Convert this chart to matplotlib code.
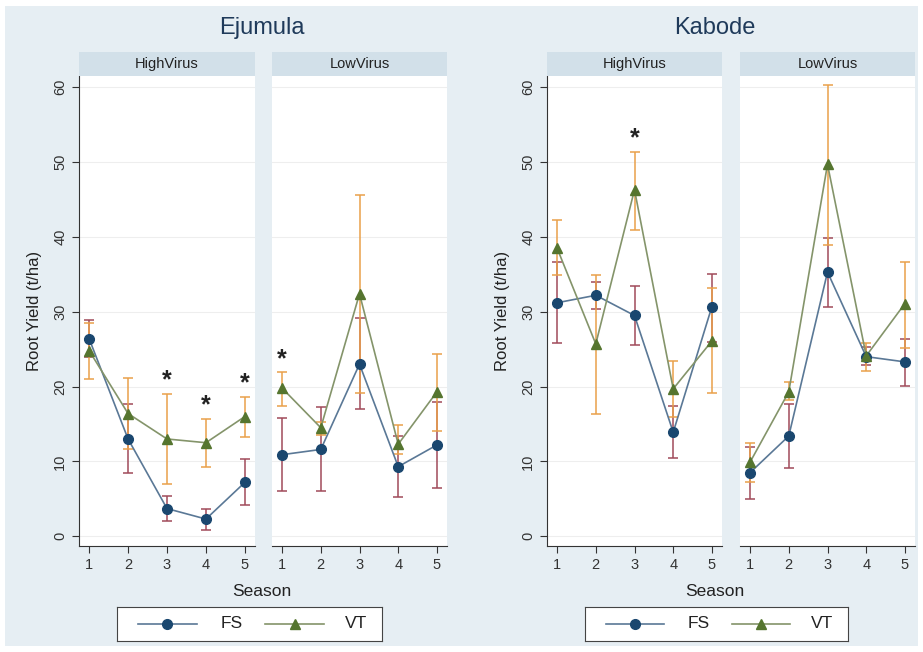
import matplotlib.pyplot as plt
from matplotlib.patches import Rectangle

plt.rcParams['font.family'] = ['Liberation Sans', 'DejaVu Sans']

# data
seasons = [1, 2, 3, 4, 5]

ej_high_fs = [26.4, 13.0, 3.7, 2.3, 7.2]
ej_high_fs_lo = [24.0, 8.4, 2.0, 0.9, 4.2]
ej_high_fs_hi = [28.9, 17.7, 5.4, 3.7, 10.3]
ej_high_vt = [24.8, 16.4, 13.0, 12.5, 16.0]
ej_high_vt_lo = [21.0, 11.7, 7.0, 9.2, 13.2]
ej_high_vt_hi = [28.5, 21.1, 19.0, 15.7, 18.6]
ej_high_star = [3, 4, 5]

ej_low_fs = [10.9, 11.6, 23.0, 9.3, 12.2]
ej_low_fs_lo = [6.1, 6.0, 17.0, 5.2, 6.4]
ej_low_fs_hi = [15.8, 17.3, 29.1, 13.4, 18.0]
ej_low_vt = [19.8, 14.5, 32.4, 12.3, 19.3]
ej_low_vt_lo = [17.4, 13.5, 19.2, 11.0, 14.1]
ej_low_vt_hi = [21.9, 15.3, 45.6, 14.9, 24.4]
ej_low_star = [1]

ka_high_fs = [31.2, 32.2, 29.5, 13.9, 30.7]
ka_high_fs_lo = [25.8, 30.4, 25.6, 10.5, 26.0]
ka_high_fs_hi = [36.7, 34.0, 33.4, 17.4, 35.0]
ka_high_vt = [38.5, 25.7, 46.3, 19.7, 26.1]
ka_high_vt_lo = [34.9, 16.3, 40.9, 15.9, 19.1]
ka_high_vt_hi = [42.2, 34.9, 51.4, 23.4, 33.2]
ka_high_star = [3]

ka_low_fs = [8.5, 13.4, 35.3, 24.0, 23.3]
ka_low_fs_lo = [5.0, 9.1, 30.7, 22.9, 20.1]
ka_low_fs_hi = [11.9, 17.7, 39.8, 25.3, 26.4]
ka_low_vt = [9.9, 19.3, 49.7, 24.1, 31.1]
ka_low_vt_lo = [7.3, 18.2, 38.9, 22.1, 25.2]
ka_low_vt_hi = [12.4, 20.6, 60.3, 25.8, 36.7]
ka_low_star = []

yticks = [0, 10, 20, 30, 40, 50, 60]

# colours
bg = '#e6eef3'
strip = '#d2e0e9'
fs_col = '#1a476f'
fs_line = '#5a7896'
fs_err = '#a04a5a'
vt_col = '#55752f'
vt_line = '#84946a'
vt_err = '#e9a04a'

W, H = 923, 652
fig = plt.figure(figsize=(W / 100, H / 100), dpi=100)
fig.patch.set_facecolor('white')
fig.add_artist(Rectangle((5 / W, 6 / H), 913 / W, 640 / H, transform=fig.transFigure,
                         facecolor=bg, edgecolor='none', zorder=-10))


def px(x0, x1, y0, y1):
    return [x0 / W, 1 - y1 / H, (x1 - x0) / W, (y1 - y0) / H]


def panel(x0, x1, label, fs, fs_lo, fs_hi, vt, vt_lo, vt_hi, stars, first):
    ax = fig.add_axes(px(x0, x1, 76, 546))
    ax.set_facecolor('white')
    ax.set_xlim(0.74, 5.26)
    ax.set_ylim(-1.3, 61.5)
    for y in yticks:
        ax.axhline(y, color='#eeeeee', lw=0.8, zorder=0)
    fs_err_lo = [v - l for v, l in zip(fs, fs_lo)]
    fs_err_hi = [h - v for v, h in zip(fs, fs_hi)]
    vt_err_lo = [v - l for v, l in zip(vt, vt_lo)]
    vt_err_hi = [h - v for v, h in zip(vt, vt_hi)]
    ax.errorbar(seasons, fs, yerr=[fs_err_lo, fs_err_hi], fmt='none', ecolor=fs_err,
                elinewidth=1.1, capsize=3.5, capthick=1.1, zorder=2)
    ax.errorbar(seasons, vt, yerr=[vt_err_lo, vt_err_hi], fmt='none', ecolor=vt_err,
                elinewidth=1.1, capsize=3.5, capthick=1.1, zorder=2)
    ax.plot(seasons, fs, color=fs_line, lw=1.2, zorder=3)
    ax.plot(seasons, vt, color=vt_line, lw=1.2, zorder=3)
    ax.plot(seasons, fs, 'o', color=fs_col, ms=7, zorder=4)
    ax.plot(seasons, vt, '^', color=vt_col, ms=7.5, zorder=4)
    for s in stars:
        i = seasons.index(s)
        ax.text(s, max(vt_hi[i], fs_hi[i]) + 0.2, '*', ha='center', va='bottom',
                fontsize=18, fontweight='bold', color='#222222')
    for sp in ['top', 'right']:
        ax.spines[sp].set_visible(False)
    ax.spines['bottom'].set_color('#333333')
    ax.set_xticks(seasons)
    ax.tick_params(axis='x', labelsize=10.5, colors='#333333', length=5, direction='out')
    if first:
        ax.spines['left'].set_color('#333333')
        ax.set_yticks(yticks)
        ax.set_yticklabels([str(t) for t in yticks], rotation=90, va='center')
        ax.tick_params(axis='y', labelsize=10.5, colors='#333333', length=5, direction='out')
        ax.set_ylabel('Root Yield (t/ha)', fontsize=12, color='#222222', labelpad=8)
    else:
        ax.spines['left'].set_visible(False)
        ax.set_yticks([])
    # strip header
    sax = fig.add_axes(px(x0, x1, 52, 76))
    sax.set_facecolor(strip)
    sax.set_xticks([])
    sax.set_yticks([])
    for sp in sax.spines.values():
        sp.set_visible(False)
    sax.text(0.5, 0.5, label, ha='center', va='center', fontsize=10.5, color='#222222',
             transform=sax.transAxes)
    return ax


panel(79, 255, 'HighVirus', ej_high_fs, ej_high_fs_lo, ej_high_fs_hi,
      ej_high_vt, ej_high_vt_lo, ej_high_vt_hi, ej_high_star, True)
panel(272, 447, 'LowVirus', ej_low_fs, ej_low_fs_lo, ej_low_fs_hi,
      ej_low_vt, ej_low_vt_lo, ej_low_vt_hi, ej_low_star, False)
panel(547, 722, 'HighVirus', ka_high_fs, ka_high_fs_lo, ka_high_fs_hi,
      ka_high_vt, ka_high_vt_lo, ka_high_vt_hi, ka_high_star, True)
panel(740, 915, 'LowVirus', ka_low_fs, ka_low_fs_lo, ka_low_fs_hi,
      ka_low_vt, ka_low_vt_lo, ka_low_vt_hi, ka_low_star, False)

# titles and shared labels
for cx, title, lx0, lx1 in [(262, 'Ejumula', 117, 382), (715, 'Kabode', 585, 848)]:
    fig.text(cx / W, 1 - 28 / H, title, ha='center', va='center', fontsize=17, color='#1f3a5a')
    fig.text(cx / W, 1 - 591 / H, 'Season', ha='center', va='center', fontsize=12.5, color='#222222')
    lax = fig.add_axes(px(lx0, lx1, 607, 641))
    lax.set_xticks([])
    lax.set_yticks([])
    lax.set_xlim(0, 1)
    lax.set_ylim(0, 1)
    lax.set_facecolor('white')
    for sp in lax.spines.values():
        sp.set_color('#444444')
    lax.plot([0.08, 0.30], [0.5, 0.5], color=fs_line, lw=1.2)
    lax.plot([0.19], [0.5], 'o', color=fs_col, ms=7)
    lax.text(0.39, 0.5, 'FS', va='center', fontsize=12.5, color='#222222')
    lax.plot([0.56, 0.78], [0.5, 0.5], color=vt_line, lw=1.2)
    lax.plot([0.67], [0.5], '^', color=vt_col, ms=7.5)
    lax.text(0.86, 0.5, 'VT', va='center', fontsize=12.5, color='#222222')

fig.savefig('out.png', dpi=100, facecolor=fig.get_facecolor())
